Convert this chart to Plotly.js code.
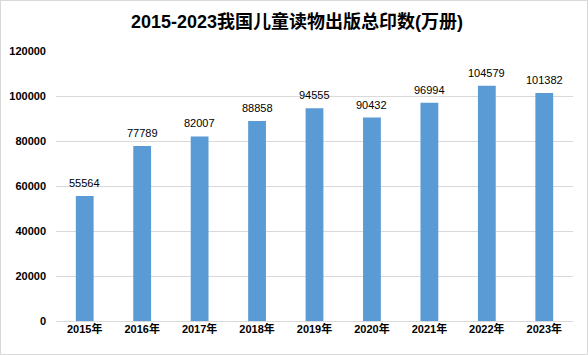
<!DOCTYPE html>
<html><head><meta charset="utf-8">
<script src="https://cdn.plot.ly/plotly-3.0.1.min.js"></script>
<style>html,body{margin:0;padding:0;background:#fff}#c{width:586px;height:353px;border:1px solid #d9d9d9}</style>
</head><body><div id="c"></div>
<script>
const years = ['2015年','2016年','2017年','2018年','2019年','2020年','2021年','2022年','2023年'];
const printRuns = [55564, 77789, 82007, 88858, 94555, 90432, 96994, 104579, 101382];
const yTicks = [0, 20000, 40000, 60000, 80000, 100000, 120000];
const titleText = '2015-2023我国儿童读物出版总印数(万册)';

const font = '"Liberation Sans", "Noto Sans CJK SC", sans-serif';
Plotly.newPlot('c', [{
  type: 'bar', x: years, y: printRuns,
  marker: {color: '#5B9BD5'},
  hoverinfo: 'none'
}], {
  width: 586, height: 353,
  margin: {l: 55, r: 14, t: 50, b: 33},
  paper_bgcolor: '#fff', plot_bgcolor: '#fff',
  bargap: 0.69,
  title: {text: '<b>' + titleText + '</b>', x: 0.505, xanchor: 'center', y: 0.94, yanchor: 'middle',
          font: {family: font, size: 18, color: '#000'}},
  xaxis: {type: 'category', showgrid: false, zeroline: false, showline: false, ticks: '',
          tickfont: {family: font, size: 11, color: '#000', weight: 'bold'}},
  yaxis: {range: [0, 120000], tickvals: yTicks, ticktext: yTicks.map(String),
          showgrid: true, gridcolor: '#d9d9d9', zeroline: true, zerolinecolor: '#d9d9d9',
          showline: false, ticks: '', ticklabelstandoff: 9,
          tickfont: {family: font, size: 11, color: '#000', weight: 'bold'}},
  annotations: years.map((yr, i) => ({
    x: yr, y: printRuns[i], xref: 'x', yref: 'y', text: String(printRuns[i]),
    showarrow: false, yanchor: 'bottom', yshift: 5,
    font: {family: font, size: 11, color: '#000'}
  })),
  showlegend: false
}, {staticPlot: true});
</script></body></html>
